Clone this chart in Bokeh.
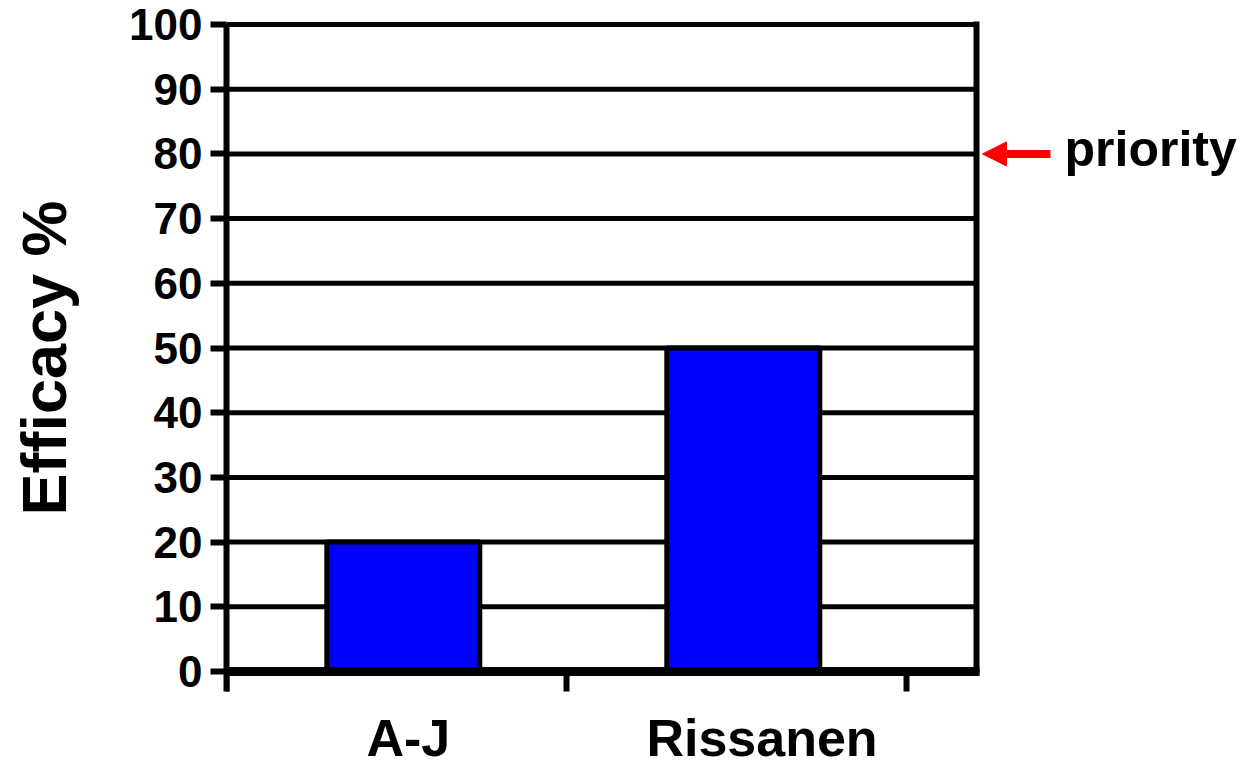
from bokeh.plotting import figure
from bokeh.layouts import column
from bokeh.models import (Range1d, FixedTicker, Label, Arrow, NormalHead, ColumnDataSource)
from bokeh.embed import file_html
from bokeh.resources import INLINE

# ---- data ----
categories = ["A-J", "Rissanen"]
efficacy = [20, 50]
y_ticks = [0, 10, 20, 30, 40, 50, 60, 70, 80, 90, 100]
priority_level = 80
priority_text = "priority"
y_label = "Efficacy %"

# ---- layout (pixels / styling, not data) ----
FONT = "Liberation Sans"
W = 1240
H_MAIN = 695        # main chart height
H_LAB = 72          # strip with category labels
LEFT = 226          # frame left (x = 0)
TOP_PX = 20         # frame top
Y100_PX = 24        # screen y of value 100
Y0_PX = 671         # screen y of value 0
CAT_PX = 340        # pixels per category
PLOT_RIGHT_PX = 976 # right border of the plot box
BASELINE_FIX = 18   # text baseline correction (px)
ppu = (Y0_PX - Y100_PX) / 100.0

def px_x(px):
    return (px - LEFT) / CAT_PX

def px_dy(px):
    return px / ppu

bar_offset = 0.52
bar_width = 0.45
label_nudge = [0.035, 0.075]

x_box = px_x(PLOT_RIGHT_PX)
y_top = 100 + px_dy(Y100_PX - TOP_PX)
y_bot = -px_dy(H_MAIN - Y0_PX)

xr = Range1d(0, px_x(W))

p = figure(width=W, height=H_MAIN, output_backend="svg", toolbar_location=None,
           x_range=xr, y_range=Range1d(y_bot, y_top),
           x_axis_location=None,
           min_border_left=LEFT, min_border_right=0,
           min_border_top=TOP_PX, min_border_bottom=0)
p.background_fill_color = "white"
p.border_fill_color = "white"
p.outline_line_color = None
p.xgrid.grid_line_color = None
p.ygrid.grid_line_color = None

# horizontal grid lines of the plot box
grid_vals = [v for v in y_ticks if v != 0]
p.segment(x0=[0] * len(grid_vals), x1=[x_box] * len(grid_vals), y0=grid_vals, y1=grid_vals,
          line_color="black", line_width=5, line_cap="square")

# bars
src = ColumnDataSource(dict(x=[i + bar_offset for i in range(len(categories))], top=efficacy))
p.vbar(x="x", top="top", bottom=0, width=bar_width, source=src,
       fill_color="#0000FF", line_color="black", line_width=5)

# right border of the box
p.segment(x0=[x_box], x1=[x_box], y0=[0], y1=[100], line_color="black", line_width=6,
          line_cap="square")
# zero line (x axis)
p.segment(x0=[0], x1=[x_box + 3 / CAT_PX], y0=[0], y1=[0],
          line_color="black", line_width=9)
# category boundary ticks
nb = len(categories) + 1
p.segment(x0=list(range(nb)), x1=list(range(nb)), y0=[0] * nb, y1=[-px_dy(20)] * nb,
          line_color="black", line_width=6)

# y axis
yax = p.yaxis[0]
yax.ticker = FixedTicker(ticks=y_ticks)
yax.bounds = (-px_dy(20), 100)
yax.axis_line_width = 6
yax.axis_line_color = "black"
yax.major_tick_out = 16
yax.major_tick_in = 0
yax.major_tick_line_width = 6
yax.minor_tick_line_color = None
yax.major_label_text_font = FONT
yax.major_label_text_font_style = "bold"
yax.major_label_text_font_size = "44px"
yax.major_label_text_color = "black"
yax.major_label_standoff = 8
yax.axis_label = y_label
yax.axis_label_text_font = FONT
yax.axis_label_text_font_style = "bold"
yax.axis_label_text_font_size = "63px"
yax.axis_label_text_color = "black"
yax.axis_label_standoff = 47

# priority arrow + text
p.add_layout(Arrow(x_start=px_x(1050), y_start=priority_level,
                   x_end=px_x(982), y_end=priority_level,
                   line_color="#FF0000", line_width=8,
                   end=NormalHead(size=24, fill_color="#FF0000", line_color="#FF0000", line_width=1)))
p.add_layout(Label(x=px_x(1064), y=priority_level - px_dy(167 - 154 - BASELINE_FIX),
                   text=priority_text, text_align="left", text_baseline="alphabetic",
                   text_font=FONT, text_font_style="bold",
                   text_font_size="50px", text_color="black"))

# category label strip (shares the x scale)
p2 = figure(width=W, height=H_LAB, output_backend="svg", toolbar_location=None,
            x_range=xr, y_range=Range1d(0, H_LAB),
            x_axis_location=None, y_axis_location=None,
            min_border_left=LEFT, min_border_right=0,
            min_border_top=0, min_border_bottom=0)
p2.outline_line_color = None
p2.background_fill_color = "white"
p2.border_fill_color = "white"
p2.xgrid.grid_line_color = None
p2.ygrid.grid_line_color = None
for i, c in enumerate(categories):
    p2.add_layout(Label(x=i + 0.5 + label_nudge[i], y=H_LAB - (755 - H_MAIN - BASELINE_FIX),
                        text=c, text_align="center", text_baseline="alphabetic",
                        text_font=FONT, text_font_style="bold",
                        text_font_size="52px", text_color="black"))

open("out.html", "w").write(file_html(column(p, p2, spacing=0), INLINE))
